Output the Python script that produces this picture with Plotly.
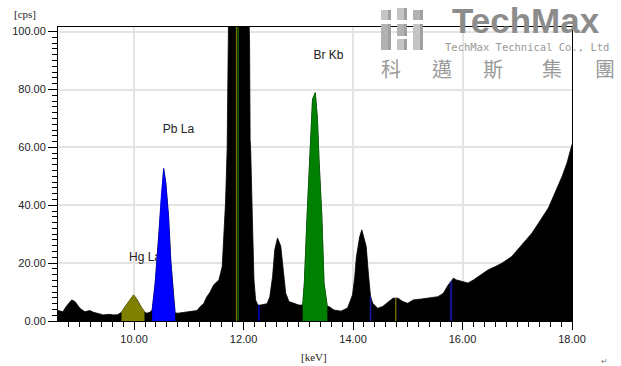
import plotly.graph_objects as go

# ---- spectrum data (keV, cps) ----
energy_kev = [8.61, 8.70, 8.76, 8.82, 8.86, 8.92, 9.01, 9.10, 9.19, 9.26, 9.32, 9.44, 9.55, 9.62, 9.70,
              9.77, 9.82, 9.87, 9.93, 9.99, 10.04, 10.08, 10.14, 10.19, 10.23, 10.29,
              10.33, 10.385, 10.45, 10.49, 10.54, 10.58, 10.63, 10.67, 10.72, 10.75,
              10.80, 10.90, 10.97, 11.07, 11.15, 11.21, 11.27, 11.33, 11.39, 11.455, 11.55,
              11.61, 11.64, 11.67, 11.70, 11.72, 11.75, 11.87, 12.00, 12.07, 12.11, 12.12,
              12.13, 12.16, 12.19, 12.22, 12.26, 12.31, 12.43, 12.48, 12.53, 12.57, 12.62,
              12.68, 12.73, 12.77, 12.83, 12.92, 13.01,
              13.08, 13.11, 13.16, 13.20, 13.23, 13.26, 13.31, 13.35, 13.38, 13.43, 13.47, 13.50, 13.53,
              13.56, 13.65, 13.78, 13.90, 13.99, 14.03, 14.06, 14.12, 14.16, 14.21, 14.24,
              14.28, 14.32, 14.36, 14.45, 14.54, 14.64, 14.73, 14.82, 14.91, 15.00, 15.10,
              15.25, 15.40, 15.55, 15.65, 15.74, 15.79, 15.83, 15.89, 16.01, 16.10, 16.20,
              16.29, 16.47, 16.60, 16.72, 16.90, 17.08, 17.27, 17.45, 17.57, 17.69, 17.82,
              17.91, 17.99, 18.00]
counts_cps = [3.6, 3.2, 5.0, 6.5, 7.3, 6.7, 4.4, 3.2, 3.6, 3.0, 2.7, 2.1, 2.3, 2.1, 2.2,
              3.0, 4.5, 5.9, 7.5, 9.0, 7.8, 6.3, 4.5, 3.2, 2.7, 3.0,
              3.8, 13.1, 29.2, 41.9, 52.7, 47.7, 36.2, 21.1, 8.4, 2.8,
              2.7, 2.9, 3.1, 3.3, 3.6, 5.0, 6.0, 8.4, 10.0, 12.5, 14.2,
              18.8, 30.4, 40.8, 59.3, 84.7, 150.0, 160.0, 155.0, 130.0, 96.0, 62.7,
              59.3, 36.2, 14.2, 7.3, 5.5, 5.5, 6.0, 8.4, 15.4, 24.6, 28.7,
              25.8, 16.5, 9.6, 6.7, 6.1, 5.5,
              5.5, 13.1, 36.2, 52.3, 61.7, 76.6, 78.9, 69.7, 55.0, 36.2, 13.1, 8.0, 5.0,
              5.0, 3.8, 3.4, 4.5, 9.0, 15.0, 22.0, 29.0, 31.5, 28.1, 25.8,
              16.5, 8.4, 6.1, 4.4, 5.0, 6.7, 7.9, 7.9, 6.7, 6.1, 7.3,
              7.6, 7.9, 8.4, 9.6, 12.5, 13.6, 14.8, 14.2, 13.6, 13.1, 14.2,
              15.4, 17.7, 18.8, 20.0, 22.3, 26.3, 30.4, 35.6, 39.1, 44.3, 50.0,
              54.7, 60.4, 61.0]

# regions of interest (coloured peaks)
roi_names = ["Hg La", "Pb La", "Br Kb"]
roi_start = [9.77, 10.33, 13.08]
roi_end = [10.19, 10.75, 13.53]
roi_colors = ["#808000", "#0000ff", "#008000"]
label_kev = [10.20, 10.81, 13.55]
label_cps = [21.8, 65.9, 91.6]

# thin marker lines inside the spectrum
marker_kev = [11.87, 11.90, 12.28, 14.32, 14.78, 15.79]
marker_cps = [160.0, 160.0, 5.5, 8.4, 7.9, 13.6]
marker_colors = ["#808000", "#2e8b00", "#0000cc", "#1a1aa0", "#808000", "#101080"]
marker_widths = [1, 1, 1.5, 1.5, 1.2, 2.5]

x_ticks = [10, 12, 14, 16, 18]
y_ticks = [0, 20, 40, 60, 80, 100]

fig = go.Figure()

fig.add_trace(go.Scatter(x=energy_kev, y=counts_cps, mode="lines", fill="tozeroy",
                         line=dict(color="black", width=0.8), fillcolor="black",
                         hoverinfo="skip", showlegend=False))

fig.add_trace(go.Scatter(x=label_kev, y=label_cps, mode="text", text=roi_names,
                         textfont=dict(family="Liberation Sans, Arial", size=12, color="#222222"),
                         hoverinfo="skip", showlegend=False))

for name, s, e, c in zip(roi_names, roi_start, roi_end, roi_colors):
    xs = [x for x in energy_kev if s <= x <= e]
    ys = [y for x, y in zip(energy_kev, counts_cps) if s <= x <= e]
    fig.add_trace(go.Scatter(x=xs, y=ys, mode="lines", fill="tozeroy",
                             line=dict(color=c, width=0.5), fillcolor=c,
                             name=name, hoverinfo="skip", showlegend=False))

for k, v, c, w in zip(marker_kev, marker_cps, marker_colors, marker_widths):
    fig.add_trace(go.Scatter(x=[k, k], y=[0, v], mode="lines",
                             line=dict(color=c, width=w), hoverinfo="skip", showlegend=False))

L, R, T, B = 58, 49, 27, 45
W, H = 621, 366
pw, ph = W - L - R, H - T - B

def px(xp):
    return (xp - L) / pw

def py(yp):
    return (H - B - yp) / ph

fig.update_layout(
    width=W, height=H, margin=dict(l=L, r=R, t=T, b=B, pad=0),
    paper_bgcolor="white", plot_bgcolor="white",
    font=dict(family="Liberation Sans, Arial", size=11, color="#222222"),
    xaxis=dict(range=[8.61, 18.0], tickvals=x_ticks, ticktext=[f"{v:.2f}" for v in x_ticks],
               ticks="outside", ticklen=8, tickcolor="black", tickwidth=1,
               showline=True, linecolor="black", linewidth=1, mirror=True,
               showgrid=True, gridcolor="#e4e4e4", gridwidth=1.5, zeroline=False,
               minor=dict(dtick=0.2, tick0=10, ticks="outside", ticklen=5, tickcolor="black", showgrid=False)),
    yaxis=dict(range=[0, 101.6], tickvals=y_ticks, ticktext=[f"{v:.2f}" for v in y_ticks],
               ticks="outside", ticklen=9, tickcolor="black", tickwidth=1,
               showline=True, linecolor="black", linewidth=1, mirror=True,
               showgrid=True, gridcolor="#e4e4e4", gridwidth=1.5, zeroline=False,
               minor=dict(dtick=2, tick0=0, ticks="outside", ticklen=5, tickcolor="black", showgrid=False)),
)

ann = [
    dict(text="[cps]", x=px(25), y=py(14), xref="paper", yref="paper", showarrow=False,
         xanchor="center", yanchor="middle", font=dict(size=11, family="Liberation Serif, Times New Roman")),
    dict(text="[keV]", x=px(314), y=py(357), xref="paper", yref="paper", showarrow=False,
         xanchor="center", yanchor="middle", font=dict(size=11, family="Liberation Serif, Times New Roman")),
    dict(text="↵", x=px(604), y=py(361), xref="paper", yref="paper", showarrow=False,
         xanchor="center", yanchor="middle", font=dict(size=8, color="#777777")),
    dict(text="<b>TechMax</b>", x=px(526), y=py(20), xref="paper", yref="paper", showarrow=False,
         xanchor="center", yanchor="middle", font=dict(size=35, color="#8c8c8c", family="Liberation Sans, Arial")),
    dict(text="TechMax Technical Co., Ltd", x=px(527), y=py(47), xref="paper", yref="paper", showarrow=False,
         xanchor="center", yanchor="middle", font=dict(size=10.5, color="#999999", family="DejaVu Sans Mono")),
]
for ch, cx in zip(["科", "邁", "斯", "集", "團"], [391, 442, 493, 552, 605]):
    ann.append(dict(text=ch, x=px(cx), y=py(68), xref="paper", yref="paper", showarrow=False,
                    xanchor="center", yanchor="middle",
                    font=dict(size=20, color="#9a9a9a", family="Noto Sans CJK TC")))
fig.update_layout(annotations=ann)

# logo icon blocks (pixel boxes -> paper coords)
blocks = [(381, 10, 391, 20), (381, 24, 391, 50), (397, 8, 407, 20), (397, 24, 407, 36),
          (397, 39, 407, 50), (413, 10, 423, 20), (413, 24, 423, 50)]
shapes = []
for i, (x0, y0, x1, y1) in enumerate(blocks):
    shapes.append(dict(type="rect", xref="paper", yref="paper", x0=px(x0), x1=px(x1), y0=py(y1), y1=py(y0),
                       fillcolor="#c4c4c4" if i % 2 == 0 else "#b2b2b2", line=dict(width=0)))
    shapes.append(dict(type="rect", xref="paper", yref="paper", x0=px(x1 - 3), x1=px(x1), y0=py(y1), y1=py(y0),
                       fillcolor="#a0a0a0", line=dict(width=0)))
fig.update_layout(shapes=shapes)

fig.write_html("out.html", config={"displayModeBar": False},
               post_script="document.body.style.margin='0px';document.body.style.padding='0px';")
